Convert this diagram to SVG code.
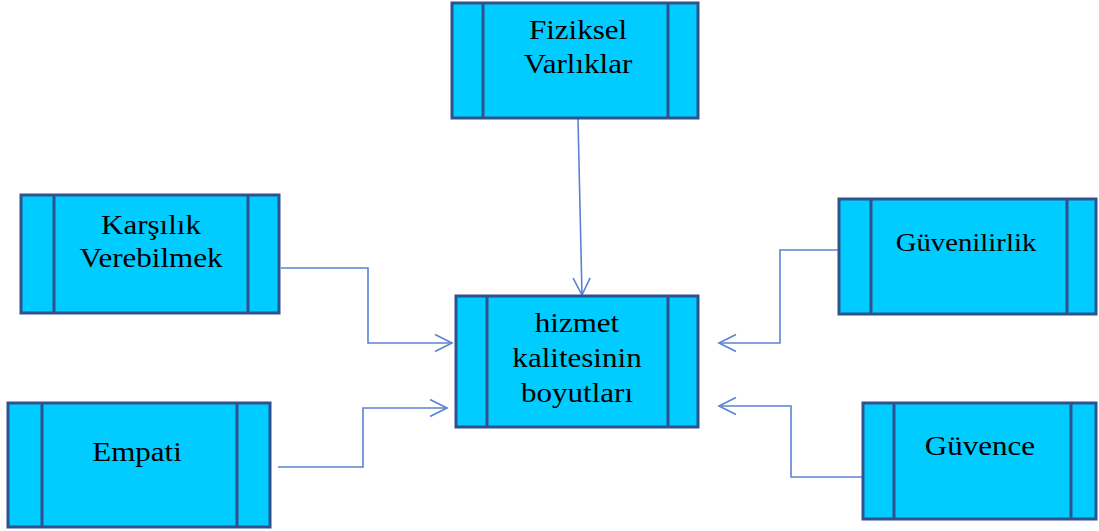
<svg xmlns="http://www.w3.org/2000/svg" width="1099" height="531" viewBox="0 0 1099 531">
  <defs>
    <style>
      .box { fill: #00CCFF; stroke: #2F528F; stroke-width: 3; }
      .bar { stroke: #2F528F; stroke-width: 3; fill: none; }
      .lbl { font-family: "Liberation Serif", "Times New Roman", serif; font-size: 27px; fill: #000; text-anchor: middle; }
      .conn { fill: none; stroke: #5B82D2; stroke-width: 1.6; }
    </style>
    <marker id="arrow" viewBox="-20 -11 22 22" refX="0" refY="0" markerWidth="22" markerHeight="22" markerUnits="userSpaceOnUse" orient="auto">
      <path d="M-17,-8.5 L0,0 L-17,8.5" fill="none" stroke="#5B82D2" stroke-width="1.6"/>
    </marker>
  </defs>
  <rect width="1099" height="531" fill="#fff"/>

  <!-- connectors -->
  <g id="connectors">
    <path class="conn" d="M578,119 L582,295" marker-end="url(#arrow)"/>
    <path class="conn" d="M281,268 H368 V343 H452" marker-end="url(#arrow)"/>
    <path class="conn" d="M278,467 H363 V408 H447" marker-end="url(#arrow)"/>
    <path class="conn" d="M841,250 H780 V343 H719" marker-end="url(#arrow)"/>
    <path class="conn" d="M862,477 H791 V406 H719" marker-end="url(#arrow)"/>
  </g>

  <!-- Fiziksel Varlıklar -->
  <g id="fiziksel">
    <rect class="box" x="452" y="3" width="246" height="115"/>
    <path class="bar" d="M483,3 V118 M668,3 V118"/>
    <text class="lbl" transform="translate(578 39) scale(1.15 1)">Fiziksel</text>
    <text class="lbl" transform="translate(578 73) scale(1.15 1)">Varlıklar</text>
  </g>

  <!-- hizmet kalitesinin boyutları -->
  <g id="merkez">
    <rect class="box" x="456" y="296" width="242" height="131"/>
    <path class="bar" d="M487,296 V427 M668,296 V427"/>
    <text class="lbl" transform="translate(577 332) scale(1.15 1)">hizmet</text>
    <text class="lbl" transform="translate(577 367) scale(1.15 1)">kalitesinin</text>
    <text class="lbl" transform="translate(577 402) scale(1.15 1)">boyutları</text>
  </g>

  <!-- Karşılık Verebilmek -->
  <g id="karsilik">
    <rect class="box" x="21" y="195" width="258" height="118"/>
    <path class="bar" d="M54,195 V313 M248,195 V313"/>
    <text class="lbl" transform="translate(151 234) scale(1.15 1)">Karşılık</text>
    <text class="lbl" transform="translate(151 267) scale(1.15 1)">Verebilmek</text>
  </g>

  <!-- Empati -->
  <g id="empati">
    <rect class="box" x="8" y="403" width="262" height="124"/>
    <path class="bar" d="M42,403 V527 M237,403 V527"/>
    <text class="lbl" transform="translate(137 461) scale(1.15 1)">Empati</text>
  </g>

  <!-- Güvenilirlik -->
  <g id="guvenilirlik">
    <rect class="box" x="839" y="199" width="257" height="115"/>
    <path class="bar" d="M871,199 V314 M1067,199 V314"/>
    <text class="lbl" style="font-size:25px" transform="translate(966 251) scale(1.15 1)">Güvenilirlik</text>
  </g>

  <!-- Güvence -->
  <g id="guvence">
    <rect class="box" x="863" y="403" width="233" height="116"/>
    <path class="bar" d="M894,403 V519 M1071,403 V519"/>
    <text class="lbl" transform="translate(980 455) scale(1.15 1)">Güvence</text>
  </g>
</svg>
